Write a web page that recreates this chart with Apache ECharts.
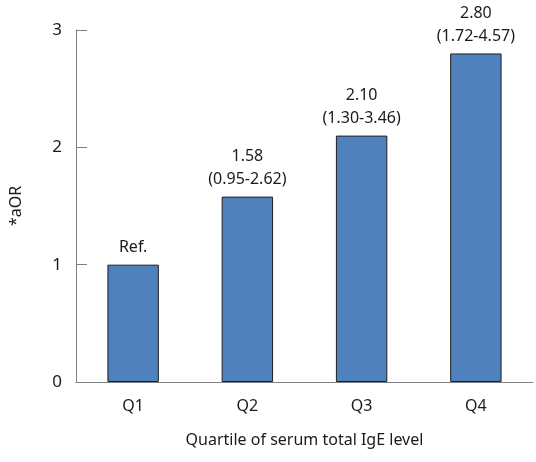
<!DOCTYPE html>
<html>
<head>
<meta charset="UTF-8">
<title>aOR by IgE quartile</title>
<script src="https://cdn.jsdelivr.net/npm/echarts@6/dist/echarts.min.js"></script>
<style>
  html, body { margin: 0; padding: 0; background: #fff; }
  #main { width: 536px; height: 462px; }
</style>
</head>
<body>
<div id="main"></div>
<script>
// data
var quartiles = ['Q1', 'Q2', 'Q3', 'Q4'];
var aorValues = [1.00, 1.58, 2.10, 2.80];
var aorLabels = ['Ref.', '1.58\n(0.95-2.62)', '2.10\n(1.30-3.46)', '2.80\n(1.72-4.57)'];
var yTicks = [0, 1, 2, 3];

var font = '"Noto Sans", "DejaVu Sans", sans-serif';
var chart = echarts.init(document.getElementById('main'));

var option = {
  animation: false,
  grid: { left: 76, right: 3, top: 30, bottom: 80 },
  xAxis: {
    type: 'category',
    data: quartiles,
    name: 'Quartile of serum total IgE level',
    nameLocation: 'middle',
    nameGap: 50,
    nameTextStyle: { fontFamily: font, fontSize: 16, color: '#1a1a1a' },
    axisLine: { lineStyle: { color: '#808080', width: 1 } },
    axisTick: { inside: true, length: 14, lineStyle: { color: '#333', width: 1 } },
    axisLabel: { fontFamily: font, fontSize: 16, color: '#1a1a1a', margin: 16 }
  },
  yAxis: {
    type: 'value',
    min: yTicks[0],
    max: yTicks[yTicks.length - 1],
    interval: 1,
    name: '*aOR',
    nameLocation: 'middle',
    nameGap: 52,
    nameTextStyle: { fontFamily: font, fontSize: 16, color: '#1a1a1a' },
    axisLine: { show: true, lineStyle: { color: '#808080', width: 1 } },
    axisTick: { show: true, inside: true, length: 11, lineStyle: { color: '#808080' } },
    axisLabel: { fontFamily: font, fontSize: 17, color: '#1a1a1a', margin: 14 },
    splitLine: { show: false }
  },
  series: [{
    type: 'bar',
    data: aorValues,
    barWidth: '45%',
    itemStyle: { color: '#4F81BD', borderColor: '#1f1f1f', borderWidth: 1 },
    label: {
      show: true,
      position: 'top',
      distance: 6,
      formatter: function (p) { return aorLabels[p.dataIndex]; },
      fontFamily: font,
      fontSize: 16,
      lineHeight: 23,
      color: '#1a1a1a'
    }
  }]
};

chart.setOption(option);
</script>
</body>
</html>
